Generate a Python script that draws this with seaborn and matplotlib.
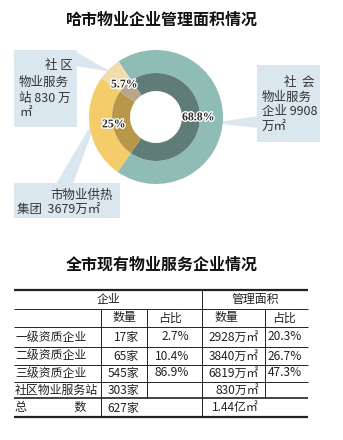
import numpy as np
import matplotlib
matplotlib.use("Agg")
import matplotlib.pyplot as plt
import matplotlib.patheffects as pe
from matplotlib.patches import Rectangle, Polygon
import seaborn as sns

# ---------------- data ----------------
title1 = "哈市物业企业管理面积情况"
title2 = "全市现有物业服务企业情况"
pie_names = ["社会物业服务企业", "市物业供热集团", "社区物业服务站"]
pie_areas = [9908, 3679, 830]          # 万㎡
pie_pcts = [68.8, 25, 5.7]
pie_pct_labels = ["68.8%", "25%", "5.7%"]
outer_colors = ["#8fbdb6", "#f4cd6a", "#f0dcae"]
inner_colors = ["#5f7d76", "#b89848", "#b6a68c"]

header_top = ["企业", "管理面积"]
header_sub = ["数量", "占比", "数量", "占比"]
row_names = ["一级资质企业", "二级资质企业", "三级资质企业", "社区物业服务站", "总　　　　数"]
counts = ["17家", "65家", "545家", "303家", "627家"]
count_pct = ["2.7%", "10.4%", "86.9%", "", ""]
area_vals = ["2928万㎡", "3840万㎡", "6819万㎡", "830万㎡", "1.44亿㎡"]
area_pct = ["20.3%", "26.7%", "47.3%", "", ""]

# ---------------- style ----------------
sns.set_theme(style="white")
plt.rcParams['font.family'] = ['Noto Sans CJK SC', 'DejaVu Sans']
FAM = ['Noto Sans CJK SC', 'DejaVu Sans']
W, H = 343, 440
fig = plt.figure(figsize=(W / 100, H / 100), dpi=100)
fig.patch.set_facecolor("white")

# overlay axes in pixel coordinates
ov = fig.add_axes([0, 0, 1, 1])
ov.set_xlim(0, W)
ov.set_ylim(H, 0)
ov.axis("off")

# ---------------- donut ----------------
cx, cy, R = 156, 117, 67
half = 72
pax = fig.add_axes([(cx - half) / W, 1 - (cy + half) / H, 2 * half / W, 2 * half / H])
lim = half / R

start = 124
w_out, _ = pax.pie(pie_pcts, radius=1.0, colors=outer_colors, startangle=start,
                   counterclock=False, wedgeprops=dict(width=23 / R, linewidth=0))
w_in, _ = pax.pie(pie_pcts, radius=44 / R, colors=inner_colors, startangle=start,
                  counterclock=False, wedgeprops=dict(width=18 / R, linewidth=0))
pax.set_xlim(-lim, lim)
pax.set_ylim(-lim, lim)
pax.set_aspect("equal")
pax.axis("off")

label_r = [0.63, 0.64, 0.68]
for wd, lab, rr in zip(w_in, pie_pct_labels, label_r):
    mid = np.deg2rad((wd.theta1 + wd.theta2) / 2)
    t = pax.text(rr * np.cos(mid), rr * np.sin(mid), lab, ha="center", va="center",
                 fontsize=8.5, fontweight="bold", family="Liberation Serif", color="#2b2b2b")
    t.set_path_effects([pe.withStroke(linewidth=2, foreground="white")])

# ---------------- callout boxes ----------------
box_c = "#dbe7ef"
# left box (社区物业服务站)
ov.add_patch(Polygon([(76, 52), (76, 66), (112, 72)], closed=True, fc=box_c, ec="none", zorder=3))
ov.add_patch(Rectangle((14, 50), 63, 77, fc=box_c, ec="none", zorder=3))
# right box (社会物业服务企业)
ov.add_patch(Polygon([(258, 116), (258, 128), (213, 123)], closed=True, fc=box_c, ec="none", zorder=3))
ov.add_patch(Rectangle((257, 65), 63, 77, fc=box_c, ec="none", zorder=3))
# bottom box (市物业供热集团)
ov.add_patch(Polygon([(56, 184), (73, 184), (101, 108)], closed=True, fc=box_c, ec="none", zorder=3))
ov.add_patch(Rectangle((14, 183), 106, 35, fc=box_c, ec="none", zorder=3))

tc = "#333333"
fs_box = 9.0
def btxt(x, y, s, ha="left"):
    ov.text(x, y, s, ha=ha, va="center", fontsize=fs_box, color=tc, family=FAM, zorder=4)

btxt(73, 65, "社 区", ha="right")
btxt(19, 82, "物业服务")
btxt(19, 98, f"站 {pie_areas[2]} 万")
btxt(19, 113, "㎡")

btxt(314, 82, "社  会", ha="right")
btxt(262, 97, "物业服务")
btxt(262, 112, f"企业 {pie_areas[0]}")
btxt(262, 127, "万㎡")

btxt(113, 195, "市物业供热", ha="right")
btxt(17, 210, f"集团  {pie_areas[1]}万㎡")

# ---------------- titles ----------------
ov.text(162, 20, title1, ha="center", va="center", fontsize=11.5, fontweight="heavy",
        color="#111111", family=FAM)
ov.text(162, 265, title2, ha="center", va="center", fontsize=11.5, fontweight="heavy",
        color="#111111", family=FAM)

# ---------------- table ----------------
L, Rt = 14, 308
lc = "#222222"
for y, lw in [(290, 1.6), (309, 0.7), (327, 0.7), (347, 0.7), (365, 0.7),
              (382, 0.7), (398, 1.2), (417, 1.6)]:
    ov.hlines(y, L, Rt, color=lc, lw=lw)
ov.vlines(101, 309, 417, color=lc, lw=0.7)
ov.vlines(147, 309, 398, color=lc, lw=0.7)
ov.vlines(202, 290, 417, color=lc, lw=0.7)
ov.vlines(265, 309, 398, color=lc, lw=0.7)

fs_t = 8.6
def ttxt(x, y, s, ha="center"):
    ov.text(x, y, s, ha=ha, va="center", fontsize=fs_t, color="#222222", family=FAM)

ttxt(108, 300, header_top[0])
ttxt(255, 300, header_top[1])
for x, s in zip([124, 170, 226, 284], header_sub):
    ttxt(x, 318, s)

row_y = [337, 356, 373, 390, 408]
for y, nm, c, cp, av, ap in zip(row_y, row_names, counts, count_pct, area_vals, area_pct):
    ttxt(15, y, nm, ha="left")
    ttxt(139, y, c, ha="right")
    ttxt(189, y, cp, ha="right")
    ttxt(259, y, av, ha="right")
    ttxt(302, y, ap, ha="right")

fig.savefig("out.png", dpi=100, facecolor="white")
